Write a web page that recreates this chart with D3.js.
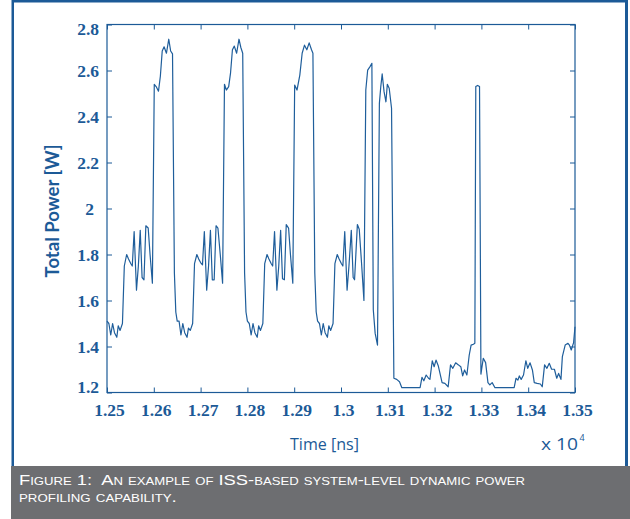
<!DOCTYPE html>
<html>
<head>
<meta charset="utf-8">
<script src="https://cdn.jsdelivr.net/npm/d3@7"></script>
<style>
  body { margin: 0; background: #fff; }
  svg { display: block; }
</style>
</head>
<body>
<svg width="630" height="519"></svg>
<script>
// tick labels (time axis is in units of 10^4 ns)
var xTickLabels = ['1.25', '1.26', '1.27', '1.28', '1.29', '1.3', '1.31', '1.32', '1.33', '1.34', '1.35'];
var yTickLabels = ['1.2', '1.4', '1.6', '1.8', '2', '2.2', '2.4', '2.6', '2.8'];

// first three busy/idle cycles
var cycle1Time = [12500, 12504, 12508, 12512, 12516, 12521, 12524, 12528, 12533,
    12537, 12542, 12546, 12551, 12554,
    12558, 12563, 12567, 12571, 12575, 12579, 12583, 12588, 12592, 12597,
    12601, 12605, 12610, 12614, 12618, 12622, 12627, 12632, 12636, 12640,
    12644, 12647];
var cycle1Power = [1.51, 1.50, 1.45, 1.50, 1.46, 1.44, 1.49, 1.47, 1.50,
    1.75, 1.80, 1.78, 1.76, 1.75,
    1.90, 1.645, 1.75, 1.905, 1.70, 1.69, 1.925, 1.915, 1.80, 1.675,
    2.54, 2.53, 2.51, 2.575, 2.685, 2.703, 2.675, 2.736, 2.685, 2.672,
    1.72, 1.55];

var cycle2Time = [12650, 12654, 12658, 12662, 12666, 12671, 12674, 12678, 12683,
    12687, 12692, 12696, 12700, 12704,
    12708, 12713, 12717, 12721, 12725, 12729, 12733, 12737, 12742, 12747,
    12751, 12755, 12760, 12764, 12768, 12772, 12777, 12782, 12786, 12790,
    12794, 12797];
var cycle2Power = [1.51, 1.51, 1.45, 1.50, 1.46, 1.44, 1.48, 1.47, 1.50,
    1.76, 1.80, 1.78, 1.765, 1.755,
    1.90, 1.645, 1.75, 1.905, 1.69, 1.69, 1.925, 1.915, 1.80, 1.675,
    2.54, 2.515, 2.53, 2.59, 2.69, 2.706, 2.675, 2.736, 2.70, 2.675,
    1.72, 1.55];

var cycle3Time = [12800, 12804, 12808, 12812, 12816, 12821, 12824, 12828, 12833,
    12837, 12842, 12846, 12851, 12854,
    12858, 12863, 12867, 12871, 12875, 12879, 12883, 12888, 12892, 12897,
    12901, 12906, 12912, 12917, 12922, 12927, 12932, 12937, 12940,
    12944, 12947];
var cycle3Power = [1.51, 1.50, 1.45, 1.50, 1.46, 1.44, 1.49, 1.47, 1.50,
    1.76, 1.80, 1.78, 1.76, 1.75,
    1.90, 1.645, 1.75, 1.905, 1.695, 1.69, 1.93, 1.915, 1.80, 1.675,
    2.537, 2.515, 2.58, 2.675, 2.71, 2.69, 2.72, 2.69, 2.675,
    1.72, 1.55];

// fourth cycle with the two tall bursts
var burstTime = [12950, 12954, 12958, 12962, 12966, 12971, 12974, 12978, 12983,
    12987, 12992, 12996, 13001, 13004,
    13008, 13013, 13017, 13022, 13026, 13029, 13035, 13039, 13044, 13049,
    13053, 13057, 13062, 13066,
    13069, 13073, 13078,
    13082, 13085, 13088, 13092, 13096, 13099, 13103, 13108,
    13113, 13119, 13125, 13130];
var burstPower = [1.51, 1.50, 1.45, 1.50, 1.46, 1.44, 1.49, 1.47, 1.50,
    1.76, 1.80, 1.78, 1.76, 1.75,
    1.90, 1.645, 1.75, 1.905, 1.70, 1.69, 1.93, 1.91, 1.76, 1.60,
    2.515, 2.602, 2.617, 2.631,
    1.56, 1.457, 1.406,
    2.457, 2.53, 2.585, 2.508, 2.464, 2.54, 2.523, 2.436,
    1.262, 1.257, 1.247, 1.221];

// mostly idle tail with one short spike
var idleTime = [13169, 13173, 13177, 13182, 13187, 13190, 13195, 13199, 13203, 13208,
    13216, 13222, 13229, 13234, 13239, 13245, 13251, 13256, 13260, 13264,
    13269, 13274, 13278, 13283, 13286,
    13288, 13292, 13296,
    13299, 13304, 13309, 13314, 13318, 13323, 13329,
    13370, 13374, 13378, 13381, 13385, 13390, 13395, 13399, 13404, 13409,
    13413, 13419, 13426, 13430, 13435, 13440, 13445, 13450, 13456, 13461,
    13465, 13470, 13473, 13479, 13485, 13488, 13492, 13497, 13500];
var idlePower = [1.221, 1.266, 1.251, 1.276, 1.262, 1.257, 1.338, 1.312, 1.341, 1.315,
    1.243, 1.240, 1.225, 1.320, 1.305, 1.329, 1.320, 1.312, 1.272, 1.298,
    1.276, 1.363, 1.406, 1.41, 1.414,
    2.53, 2.535, 2.53,
    1.28, 1.349, 1.33, 1.243, 1.233, 1.243, 1.221,
    1.221, 1.262, 1.254, 1.272, 1.257, 1.276, 1.338, 1.305, 1.329, 1.298,
    1.243, 1.240, 1.237, 1.225, 1.320, 1.305, 1.327, 1.301, 1.301, 1.262,
    1.283, 1.257, 1.356, 1.406, 1.414, 1.406, 1.385, 1.417, 1.486];

var blue = '#1c5a97';
var svg = d3.select('svg');

// plot box in pixels
var box = {l: 107, r: 575, t: 24.5, b: 392.5};

var x = d3.scaleLinear().domain([12500, 13500]).range([box.l, box.r]);
var y = d3.scaleLinear().domain([1.2, 2.8]).range([box.b, box.t]);

// outer frame + caption bar
svg.append('rect').attr('x', 12).attr('y', 0).attr('width', 616).attr('height', 2.5).attr('fill', blue);
svg.append('rect').attr('x', 11.5).attr('y', 0).attr('width', 2.5).attr('height', 467).attr('fill', blue);
svg.append('rect').attr('x', 625).attr('y', 0).attr('width', 3).attr('height', 467).attr('fill', blue);
svg.append('rect').attr('x', 11).attr('y', 466).attr('width', 619).attr('height', 53).attr('fill', '#6d6e71');

// join all segments into one trace
var points = [];
[[cycle1Time, cycle1Power], [cycle2Time, cycle2Power], [cycle3Time, cycle3Power],
 [burstTime, burstPower], [idleTime, idlePower]].forEach(function(seg) {
    seg[0].forEach(function(t, i) { points.push([t, seg[1][i]]); });
});

var xTicks = xTickLabels.map(function(s) { return Math.round(+s * 10000); });
var yTicks = yTickLabels.map(function(s) { return +s; });

var tickFont = '"Liberation Serif", "DejaVu Serif", serif';

// axes (ticks point inward)
var gB = svg.append('g').attr('transform', 'translate(0,' + box.b + ')')
    .call(d3.axisBottom(x).tickValues(xTicks).tickSizeInner(-5).tickSizeOuter(0).tickPadding(11)
        .tickFormat(function(d, i) { return xTickLabels[i]; }));
var gT = svg.append('g').attr('transform', 'translate(0,' + box.t + ')')
    .call(d3.axisTop(x).tickValues(xTicks).tickSizeInner(-5).tickSizeOuter(0).tickFormat(''));
var gL = svg.append('g').attr('transform', 'translate(' + box.l + ',0)')
    .call(d3.axisLeft(y).tickValues(yTicks).tickSizeInner(-5).tickSizeOuter(0).tickPadding(8)
        .tickFormat(function(d, i) { return yTickLabels[i]; }));
var gR = svg.append('g').attr('transform', 'translate(' + box.r + ',0)')
    .call(d3.axisRight(y).tickValues(yTicks).tickSizeInner(-5).tickSizeOuter(0).tickFormat(''));

[gB, gT, gL, gR].forEach(function(g) {
    g.select('.domain').remove();
    g.selectAll('line').attr('stroke', blue).attr('stroke-width', 1);
    g.selectAll('text').attr('fill', blue)
        .style('font-family', tickFont).style('font-weight', 'bold').style('font-size', '17.5px');
});
gB.selectAll('text').attr('dx', 2);
// end labels sit a little inside the box, as in the original
gL.selectAll('text')
    .attr('dx', function(d) { return d === 2 ? -5 : 0; })
    .attr('y', function(d, i) { return i === 0 ? -6 : (i === yTicks.length - 1 ? 4 : 0); });

svg.append('rect')
    .attr('x', box.l).attr('y', box.t)
    .attr('width', box.r - box.l).attr('height', box.b - box.t)
    .attr('fill', 'none').attr('stroke', blue).attr('stroke-width', 1.2);

var line = d3.line()
    .x(function(d) { return x(d[0]); })
    .y(function(d) { return y(d[1]); });

svg.append('path')
    .datum(points)
    .attr('d', line)
    .attr('fill', 'none')
    .attr('stroke', '#1f5e9b')
    .attr('stroke-width', 1.2)
    .attr('stroke-linejoin', 'round');

// axis titles
svg.append('text')
    .attr('transform', 'translate(58.5,211) rotate(-90)')
    .attr('text-anchor', 'middle')
    .attr('textLength', 133)
    .attr('lengthAdjust', 'spacingAndGlyphs')
    .style('font-family', 'Lato, "Open Sans", sans-serif')
    .style('font-weight', 'bold')
    .style('font-size', '19px')
    .attr('fill', blue)
    .text('Total Power [W]');

svg.append('text')
    .attr('x', 290).attr('y', 449.5)
    .attr('textLength', 69)
    .attr('lengthAdjust', 'spacingAndGlyphs')
    .style('font-family', '"Open Sans", sans-serif')
    .style('font-size', '16px')
    .attr('fill', blue)
    .text('Time [ns]');

svg.append('text')
    .attr('x', 541).attr('y', 449.5)
    .attr('textLength', 37)
    .attr('lengthAdjust', 'spacingAndGlyphs')
    .style('font-family', '"Open Sans", sans-serif')
    .style('font-size', '16px')
    .attr('fill', blue)
    .text('x 10');
svg.append('text')
    .attr('x', 579.5).attr('y', 441)
    .style('font-family', '"Open Sans", sans-serif')
    .style('font-size', '9px')
    .attr('fill', blue)
    .text('4');

// caption in small caps, squeezed to the printed width
var captionLines = [
    {text: 'Figure 1:  An example of ISS-based system-level dynamic power', y: 484.5, w: 515},
    {text: 'profiling capability.', y: 502, w: 164}
];
captionLines.forEach(function(c) {
    var t = svg.append('text')
        .attr('x', 0).attr('y', 0)
        .style('font-family', '"Liberation Sans Narrow", "Liberation Sans", sans-serif')
        .style('font-size', '15px')
        .style('font-variant', 'small-caps')
        .style('white-space', 'pre')
        .attr('fill', '#ffffff')
        .text(c.text);
    var natural = t.node().getComputedTextLength();
    t.attr('transform', 'translate(19,' + c.y + ') scale(' + (c.w / natural) + ',1)');
});
</script>
</body>
</html>
